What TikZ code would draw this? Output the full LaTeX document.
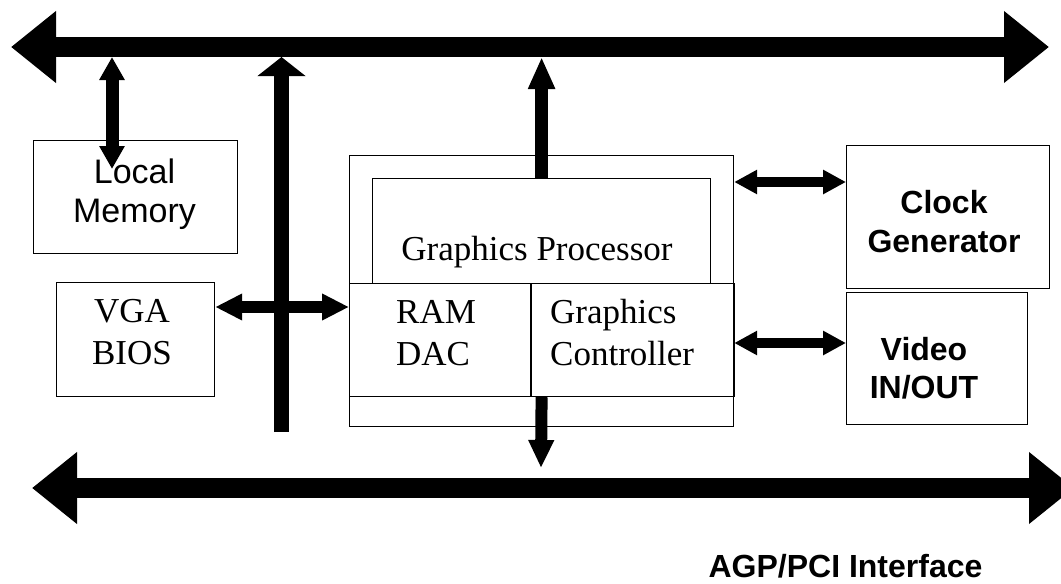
\documentclass[tikz,border=0pt]{standalone}
\usepackage{fontspec}
\setmainfont{Liberation Serif}
\newfontfamily\arialfont{Liberation Sans}
\usetikzlibrary{arrows.meta,positioning}

\tikzset{
  block/.style={draw, line width=1.2pt, inner sep=0pt, anchor=north west},
  serif/.style={font=\fontsize{35}{42}\selectfont, inner sep=0pt},
  sans/.style={font=\arialfont\fontsize{34}{39}\selectfont, inner sep=0pt},
  sansbold/.style={font=\arialfont\bfseries\fontsize{32}{38.5}\selectfont, inner sep=0pt},
  bus/.style={line width=20pt, arrows={Triangle[length=45pt,width=69pt]-Triangle[length=45pt,width=69pt]}},
  memlink/.style={line width=13pt, arrows={Triangle[length=23pt,width=24pt]-Triangle[length=23pt,width=24pt]}},
  spine/.style={line width=15pt, arrows={-Triangle[length=19pt,width=47pt]}},
  vgalink/.style={line width=12pt, arrows={Triangle[length=27pt,width=25pt]-Triangle[length=27pt,width=25pt]}},
  uplink/.style={line width=13pt, arrows={-Triangle[length=32pt,width=25pt]}},
  downlink/.style={line width=12pt, arrows={-Triangle[length=28pt,width=24pt]}},
  sidelink/.style={line width=10pt, arrows={Triangle[length=23pt,width=23pt]-Triangle[length=23pt,width=23pt]}}
}

\begin{document}
\begin{tikzpicture}[x=1pt, y=-1pt]
    \useasboundingbox (0,0) rectangle (1061,584);

    % Define blocks
    \node[block, minimum width=204pt, minimum height=113pt] (lmem) at (33,140) {};
    \node[block, minimum width=158pt, minimum height=114pt] (vga) at (56,282) {};
    \node[block, minimum width=384pt, minimum height=271pt] (gpu) at (349,155) {};
    \node[block, minimum width=338pt, minimum height=105pt] (gproc) at (372,178) {};
    \node[block, minimum width=181pt, minimum height=113pt] (ramdac) at (349,283) {};
    \node[block, minimum width=203pt, minimum height=113pt, right=0pt of ramdac] (gctrl) {};
    \node[block, minimum width=203pt, minimum height=143pt] (clock) at (846,145) {};
    \node[block, minimum width=181pt, minimum height=132pt, below right=3pt and 0pt of clock.south west] (video) {};

    % Texts
    \node[sans, align=center, anchor=north] (lmemtxt) at (134.5,158.7) {Local\\Memory};
    \node[serif, align=center, anchor=north] (vgatxt) at (132,299.3) {VGA\\BIOS};
    \node[serif, anchor=base] (gproctxt) at (537,260) {Graphics Processor};
    \node[serif, align=left, anchor=north west] (ramdactxt) at (396,299.8) {RAM\\DAC};
    \node[serif, align=left, anchor=north west] (gctrltxt) at (550,299) {Graphics\\Controller};
    \node[sansbold, align=center, anchor=north] (clocktxt) at (944,190.6) {Clock\\Generator};
    \node[sansbold, align=center, anchor=north] (videotxt) at (924,337.1) {Video\\IN/OUT};
    \node[sansbold, anchor=base] (agp) at (845.5,577) {AGP/PCI Interface};

    % Bus ends and levels
    \coordinate (topL) at (11,47);
    \coordinate (topR) at (1049,47);
    \coordinate (botL) at (32,488);
    \coordinate (botR) at (1074,488);
    \coordinate (memtop) at (112,57);
    \coordinate (memtip) at (112,169);
    \coordinate (spinebot) at (281.5,432);
    \coordinate (pcitip) at (541,468);
    \coordinate (vgalevel) at (0,307);
    \coordinate (clklevel) at (0,182);
    \coordinate (vidlevel) at (0,343);

    % Connect blocks
    \draw[bus] (topL) -- (topR);
    \draw[bus] (botL) -- (botR);
    \draw[memlink] (memtop) -- (memtip);
    \draw[spine] (spinebot) -- (spinebot |- memtop);
    \draw[vgalink] (vga.east |- vgalevel) -- (ramdac.west |- vgalevel);
    \draw[uplink] (gproc.north) -- (gproc.north |- memtop);
    \draw[downlink] (gproc.south |- ramdac.south) -- (pcitip);
    \draw[sidelink] (gpu.east |- clklevel) -- (clock.west |- clklevel);
    \draw[sidelink] (gpu.east |- vidlevel) -- (video.west |- vidlevel);
\end{tikzpicture}
\end{document}
